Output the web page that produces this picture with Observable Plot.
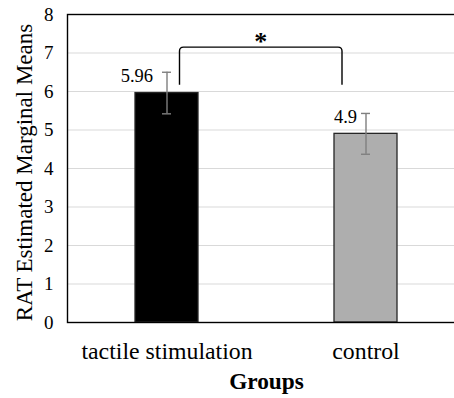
<!DOCTYPE html>
<html>
<head>
<meta charset="utf-8">
<script src="https://cdn.jsdelivr.net/npm/d3@7"></script>
<script src="https://cdn.jsdelivr.net/npm/@observablehq/plot@0.6"></script>
<style>
  html, body { margin: 0; padding: 0; background: #fff; overflow: hidden; }
  #chart { width: 454px; height: 398px; overflow: hidden; }
  #chart svg { max-width: none !important; font-family: 'Liberation Serif', 'Times New Roman', serif !important; }
  #chart svg text { font-family: 'Liberation Serif', 'Times New Roman', serif; }
</style>
</head>
<body>
<div id="chart"></div>
<script>
const groups = ["tactile stimulation", "control"];
const means = [5.96, 4.9];
const errors = [0.54, 0.53];
const labels = ["5.96", "4.9"];
const yTicks = [0, 1, 2, 3, 4, 5, 6, 7, 8];
const bracketTop = 7.14;
const bracketBottom = 6.16;
const significance = "*";
const yLabel = "RAT Estimated Marginal Means";
const xLabel = "Groups";

const data = groups.map((g, i) => ({group: g, mean: means[i], err: errors[i], label: labels[i]}));
const fills = {"tactile stimulation": "#000000", "control": "#aeaeae"};
const serif = "'Liberation Serif', 'Times New Roman', serif";

function bracketMark(index, scales, values, dimensions) {
  const x = scales.x, y = scales.y;
  const step = x(groups[1]) - x(groups[0]);
  const xl = x(groups[0]) + step / 2 + 13;
  const xr = x(groups[1]) + step / 2 - 23.5;
  const yt = y(bracketTop), yb = y(bracketBottom);
  const r = 4;
  const d = `M${xl},${yb} L${xl},${yt + r} Q${xl},${yt} ${xl + r},${yt} L${xr - r},${yt} Q${xr},${yt} ${xr},${yt + r} L${xr},${yb}`;
  const g = d3.create("svg:g");
  g.append("path").attr("d", d).attr("fill", "none").attr("stroke", "#000").attr("stroke-width", 1.4);
  g.append("text")
    .attr("x", (xl + xr) / 2).attr("y", yt + 3)
    .attr("text-anchor", "middle")
    .attr("font-family", serif).attr("font-weight", "bold").attr("font-size", 26)
    .text(significance);
  return g.node();
}

const chart = Plot.plot({
  width: 466,
  height: 398,
  marginLeft: 67,
  marginRight: 1,
  marginTop: 14,
  marginBottom: 76,
  style: {fontFamily: serif, background: "#fff", overflow: "visible", maxWidth: "none"},
  x: {domain: groups, padding: 0, label: null},
  y: {domain: [0, 8], label: null},
  marks: [
    Plot.ruleY(yTicks.filter(d => d > 0 && d < 8), {stroke: "#d9d9d9", strokeWidth: 1.2}),
    Plot.barY(data, {x: "group", y: "mean", fill: d => fills[d.group], stroke: "#262626", strokeWidth: 1.3, insetLeft: 68, insetRight: 68}),
    Plot.ruleX(data, {x: "group", y1: d => d.mean - d.err, y2: d => d.mean + d.err, stroke: "#7f7f7f", strokeWidth: 1.4}),
    Plot.tickY(data, {x: "group", y: d => d.mean - d.err, stroke: "#7f7f7f", strokeWidth: 1.4, insetLeft: 95, insetRight: 95}),
    Plot.tickY(data, {x: "group", y: d => d.mean + d.err, stroke: "#7f7f7f", strokeWidth: 1.4, insetLeft: 95, insetRight: 95}),
    Plot.text(data.filter(d => d.group === groups[0]), {x: "group", y: d => d.mean + d.err, text: "label", textAnchor: "end", dx: -14, dy: 4, fontSize: 18.5, fill: "#000", fontFamily: serif}),
    Plot.text(data.filter(d => d.group === groups[1]), {x: "group", y: d => d.mean + d.err, text: "label", textAnchor: "end", dx: -9, dy: 4, fontSize: 18.5, fill: "#000", fontFamily: serif}),
    Plot.frame({stroke: "#000", strokeWidth: 1.4}),
    Plot.axisY({ticks: yTicks, tickSize: 0, tickPadding: 14, fontSize: 19, tickFormat: d => String(d), label: null, fill: "#000", fontFamily: serif}),
    Plot.axisX({tickSize: 0, tickPadding: 20, fontSize: 23.8, label: null, fill: "#000", fontFamily: serif}),
    Plot.text([yLabel], {frameAnchor: "left", textAnchor: "middle", rotate: -90, dx: -43, dy: 4, fontSize: 23, fill: "#000", fontFamily: serif}),
    Plot.text([xLabel], {frameAnchor: "bottom", textAnchor: "middle", dy: 66, fontSize: 23.3, fontWeight: "bold", fill: "#000", fontFamily: serif}),
    bracketMark
  ]
});
document.getElementById("chart").append(chart);
</script>
</body>
</html>
